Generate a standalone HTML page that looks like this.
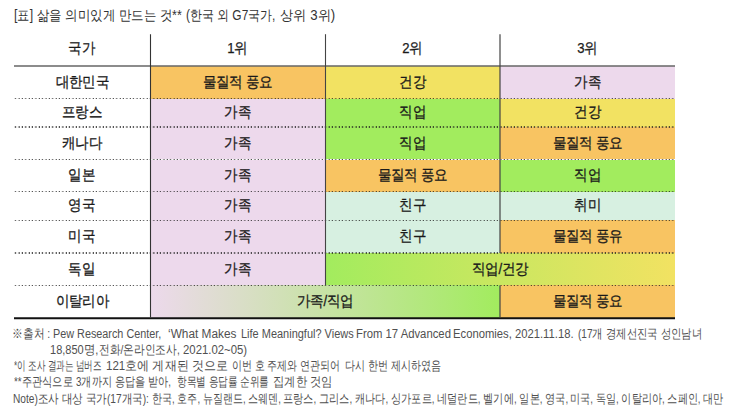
<!DOCTYPE html>
<html><head><meta charset="utf-8">
<style>
html,body{margin:0;padding:0;background:#fff;}
body{width:734px;height:419px;position:relative;overflow:hidden;font-family:"Liberation Sans",sans-serif;color:#222;}
.a{position:absolute;}
.s{position:absolute;white-space:nowrap;line-height:1;transform-origin:0 0;}
.c{position:absolute;display:flex;align-items:center;justify-content:center;white-space:nowrap;color:#1a1a1a;}
.c span{display:inline-block;}
.dot{position:absolute;height:1.2px;background:repeating-linear-gradient(90deg,rgba(40,40,40,0) 0px,rgba(30,30,30,.95) 0.6px,rgba(30,30,30,.95) 1.0px,rgba(40,40,40,0) 1.6px,rgba(40,40,40,0) 3.37px);background-position:0.8px 0;}
</style></head><body>

<div class="s" style="left:14.12px;top:8.40px;font-size:14px;color:#333;transform:scaleX(0.8759)">[표]</div>
<div class="s" style="left:37.15px;top:8.40px;font-size:14px;color:#333;transform:scaleX(0.8909)">삶을 의미있게 만드는 것**</div>
<div class="s" style="left:185.66px;top:8.40px;font-size:14px;color:#333;transform:scaleX(0.8515)">(한국 외 G7국가,</div>
<div class="s" style="left:279.83px;top:8.40px;font-size:14px;color:#333;transform:scaleX(0.9456)">상위 3위)</div>
<div class="c" style="left:14px;top:34px;width:136px;height:31.9px"><span style="font-size:14.6px;letter-spacing:-0.3px;-webkit-text-stroke:0.25px #1a1a1a;transform:translateY(-0.7px) scaleX(0.9)">국가</span></div>
<div class="c" style="left:150px;top:34px;width:175px;height:31.9px"><span style="font-size:14.6px;letter-spacing:-0.3px;-webkit-text-stroke:0.25px #1a1a1a;transform:translateY(-0.7px) scaleX(0.9)">1위</span></div>
<div class="c" style="left:325px;top:34px;width:175px;height:31.9px"><span style="font-size:14.6px;letter-spacing:-0.3px;-webkit-text-stroke:0.25px #1a1a1a;transform:translateY(-0.7px) scaleX(0.9)">2위</span></div>
<div class="c" style="left:500px;top:34px;width:175px;height:31.9px"><span style="font-size:14.6px;letter-spacing:-0.3px;-webkit-text-stroke:0.25px #1a1a1a;transform:translateY(-0.7px) scaleX(0.9)">3위</span></div>
<div class="c" style="left:14px;top:65.9px;width:136px;height:32.7px"><span style="font-size:14.6px;letter-spacing:-0.3px;-webkit-text-stroke:0.3px #1a1a1a;transform:translateY(-0.5px) scaleX(0.9)">대한민국</span></div>
<div class="c" style="left:150px;top:65.9px;width:175px;height:32.7px;background:#F8C462"><span style="font-size:14.6px;letter-spacing:-0.3px;-webkit-text-stroke:0.3px #1a1a1a;transform:translateY(-0.5px) scaleX(0.9)">물질적 풍요</span></div>
<div class="c" style="left:325px;top:65.9px;width:175px;height:32.7px;background:#F2E262"><span style="font-size:14.6px;letter-spacing:-0.3px;-webkit-text-stroke:0.3px #1a1a1a;transform:translateY(-0.5px) scaleX(0.9)">건강</span></div>
<div class="c" style="left:500px;top:65.9px;width:175px;height:32.7px;background:#EDD9EC"><span style="font-size:14.6px;letter-spacing:-0.3px;-webkit-text-stroke:0.3px #1a1a1a;transform:translateY(-0.5px) scaleX(0.9)">가족</span></div>
<div class="c" style="left:14px;top:98.6px;width:136px;height:28.3px"><span style="font-size:14.6px;letter-spacing:-0.3px;-webkit-text-stroke:0.3px #1a1a1a;transform:translateY(-0.5px) scaleX(0.9)">프랑스</span></div>
<div class="c" style="left:150px;top:98.6px;width:175px;height:28.3px;background:#EDD9EC"><span style="font-size:14.6px;letter-spacing:-0.3px;-webkit-text-stroke:0.3px #1a1a1a;transform:translateY(-0.5px) scaleX(0.9)">가족</span></div>
<div class="c" style="left:325px;top:98.6px;width:175px;height:28.3px;background:#A2EC5E"><span style="font-size:14.6px;letter-spacing:-0.3px;-webkit-text-stroke:0.3px #1a1a1a;transform:translateY(-0.5px) scaleX(0.9)">직업</span></div>
<div class="c" style="left:500px;top:98.6px;width:175px;height:28.3px;background:#F2E262"><span style="font-size:14.6px;letter-spacing:-0.3px;-webkit-text-stroke:0.3px #1a1a1a;transform:translateY(-0.5px) scaleX(0.9)">건강</span></div>
<div class="c" style="left:14px;top:126.9px;width:136px;height:32.6px"><span style="font-size:14.6px;letter-spacing:-0.3px;-webkit-text-stroke:0.3px #1a1a1a;transform:translateY(-0.5px) scaleX(0.9)">캐나다</span></div>
<div class="c" style="left:150px;top:126.9px;width:175px;height:32.6px;background:#EDD9EC"><span style="font-size:14.6px;letter-spacing:-0.3px;-webkit-text-stroke:0.3px #1a1a1a;transform:translateY(-0.5px) scaleX(0.9)">가족</span></div>
<div class="c" style="left:325px;top:126.9px;width:175px;height:32.6px;background:#A2EC5E"><span style="font-size:14.6px;letter-spacing:-0.3px;-webkit-text-stroke:0.3px #1a1a1a;transform:translateY(-0.5px) scaleX(0.9)">직업</span></div>
<div class="c" style="left:500px;top:126.9px;width:175px;height:32.6px;background:#F8C462"><span style="font-size:14.6px;letter-spacing:-0.3px;-webkit-text-stroke:0.3px #1a1a1a;transform:translateY(-0.5px) scaleX(0.9)">물질적 풍요</span></div>
<div class="c" style="left:14px;top:159.5px;width:136px;height:32.0px"><span style="font-size:14.6px;letter-spacing:-0.3px;-webkit-text-stroke:0.3px #1a1a1a;transform:translateY(-0.5px) scaleX(0.9)">일본</span></div>
<div class="c" style="left:150px;top:159.5px;width:175px;height:32.0px;background:#EDD9EC"><span style="font-size:14.6px;letter-spacing:-0.3px;-webkit-text-stroke:0.3px #1a1a1a;transform:translateY(-0.5px) scaleX(0.9)">가족</span></div>
<div class="c" style="left:325px;top:159.5px;width:175px;height:32.0px;background:#F8C462"><span style="font-size:14.6px;letter-spacing:-0.3px;-webkit-text-stroke:0.3px #1a1a1a;transform:translateY(-0.5px) scaleX(0.9)">물질적 풍요</span></div>
<div class="c" style="left:500px;top:159.5px;width:175px;height:32.0px;background:#A2EC5E"><span style="font-size:14.6px;letter-spacing:-0.3px;-webkit-text-stroke:0.3px #1a1a1a;transform:translateY(-0.5px) scaleX(0.9)">직업</span></div>
<div class="c" style="left:14px;top:191.5px;width:136px;height:28.9px"><span style="font-size:14.6px;letter-spacing:-0.3px;-webkit-text-stroke:0.3px #1a1a1a;transform:translateY(-0.5px) scaleX(0.9)">영국</span></div>
<div class="c" style="left:150px;top:191.5px;width:175px;height:28.9px;background:#EDD9EC"><span style="font-size:14.6px;letter-spacing:-0.3px;-webkit-text-stroke:0.3px #1a1a1a;transform:translateY(-0.5px) scaleX(0.9)">가족</span></div>
<div class="c" style="left:325px;top:191.5px;width:175px;height:28.9px;background:#D7F0E1"><span style="font-size:14.6px;letter-spacing:-0.3px;-webkit-text-stroke:0.3px #1a1a1a;transform:translateY(-0.5px) scaleX(0.9)">친구</span></div>
<div class="c" style="left:500px;top:191.5px;width:175px;height:28.9px;background:#D7F0E1"><span style="font-size:14.6px;letter-spacing:-0.3px;-webkit-text-stroke:0.3px #1a1a1a;transform:translateY(-0.5px) scaleX(0.9)">취미</span></div>
<div class="c" style="left:14px;top:220.4px;width:136px;height:32.5px"><span style="font-size:14.6px;letter-spacing:-0.3px;-webkit-text-stroke:0.3px #1a1a1a;transform:translateY(-0.5px) scaleX(0.9)">미국</span></div>
<div class="c" style="left:150px;top:220.4px;width:175px;height:32.5px;background:#EDD9EC"><span style="font-size:14.6px;letter-spacing:-0.3px;-webkit-text-stroke:0.3px #1a1a1a;transform:translateY(-0.5px) scaleX(0.9)">가족</span></div>
<div class="c" style="left:325px;top:220.4px;width:175px;height:32.5px;background:#D7F0E1"><span style="font-size:14.6px;letter-spacing:-0.3px;-webkit-text-stroke:0.3px #1a1a1a;transform:translateY(-0.5px) scaleX(0.9)">친구</span></div>
<div class="c" style="left:500px;top:220.4px;width:175px;height:32.5px;background:#F8C462"><span style="font-size:14.6px;letter-spacing:-0.3px;-webkit-text-stroke:0.3px #1a1a1a;transform:translateY(-0.5px) scaleX(0.9)">물질적 풍유</span></div>
<div class="c" style="left:14px;top:252.9px;width:136px;height:32.5px"><span style="font-size:14.6px;letter-spacing:-0.3px;-webkit-text-stroke:0.3px #1a1a1a;transform:translateY(-0.5px) scaleX(0.9)">독일</span></div>
<div class="c" style="left:150px;top:252.9px;width:175px;height:32.5px;background:#EDD9EC"><span style="font-size:14.6px;letter-spacing:-0.3px;-webkit-text-stroke:0.3px #1a1a1a;transform:translateY(-0.5px) scaleX(0.9)">가족</span></div>
<div class="c" style="left:325px;top:252.9px;width:350px;height:32.5px;background:linear-gradient(90deg,#A2EC5E,#F2E262)"><span style="font-size:14.6px;letter-spacing:-0.3px;-webkit-text-stroke:0.3px #1a1a1a;transform:translateY(-0.5px) scaleX(0.9)">직업/건강</span></div>
<div class="c" style="left:14px;top:285.4px;width:136px;height:32.5px"><span style="font-size:14.6px;letter-spacing:-0.3px;-webkit-text-stroke:0.3px #1a1a1a;transform:translateY(-0.5px) scaleX(0.9)">이탈리아</span></div>
<div class="c" style="left:150px;top:285.4px;width:350px;height:32.5px;background:linear-gradient(90deg,#EDD9EC,#A2EC5E)"><span style="font-size:14.6px;letter-spacing:-0.3px;-webkit-text-stroke:0.3px #1a1a1a;transform:translateY(-0.5px) scaleX(0.9)">가족/직업</span></div>
<div class="c" style="left:500px;top:285.4px;width:175px;height:32.5px;background:#F8C462"><span style="font-size:14.6px;letter-spacing:-0.3px;-webkit-text-stroke:0.3px #1a1a1a;transform:translateY(-0.5px) scaleX(0.9)">물질적 풍요</span></div>
<div class="dot" style="left:14px;top:98.1px;width:661px"></div>
<div class="dot" style="left:14px;top:126.4px;width:661px"></div>
<div class="dot" style="left:14px;top:159.0px;width:661px"></div>
<div class="dot" style="left:14px;top:191.0px;width:661px"></div>
<div class="dot" style="left:14px;top:219.9px;width:661px"></div>
<div class="dot" style="left:14px;top:252.4px;width:661px"></div>
<div class="dot" style="left:14px;top:284.9px;width:661px"></div>
<svg class="a" style="left:0;top:0" width="734" height="419"><line x1="14" y1="65.9" x2="675" y2="65.9" stroke="#666" stroke-width="1.5"/><line x1="14" y1="318.15" x2="675" y2="318.15" stroke="#111" stroke-width="2"/><line x1="150.5" y1="34.2" x2="150.5" y2="317.5" stroke="#333" stroke-width="1.1"/><line x1="325.5" y1="34.2" x2="325.5" y2="285.4" stroke="#444" stroke-width="1.1"/><line x1="500" y1="34.2" x2="500" y2="252.9" stroke="#444" stroke-width="1.2"/><line x1="500" y1="285.4" x2="500" y2="317.5" stroke="#444" stroke-width="1.2"/></svg>
<div class="s" style="left:12.35px;top:327.50px;font-size:12.5px;color:#505050;transform:scaleX(0.8302)">※출처 :</div>
<div class="s" style="left:53.03px;top:327.50px;font-size:12.5px;color:#505050;transform:scaleX(0.8659)">Pew Research Center,</div>
<div class="s" style="left:168.49px;top:327.50px;font-size:12.5px;color:#505050;transform:scaleX(0.9465)">‘What Makes</div>
<div class="s" style="left:240.52px;top:327.50px;font-size:12.5px;color:#505050;transform:scaleX(0.8780)">Life Meaningful? Views</div>
<div class="s" style="left:356.10px;top:327.50px;font-size:12.5px;color:#505050;transform:scaleX(0.9049)">From 17 Advanced</div>
<div class="s" style="left:453.10px;top:327.50px;font-size:12.5px;color:#505050;transform:scaleX(0.9002)">Economies, 2021.11.18.</div>
<div class="s" style="left:578.20px;top:327.50px;font-size:12.5px;color:#505050;transform:scaleX(0.8013)">(17개 경제선진국 성인남녀</div>
<div class="s" style="left:49.62px;top:343.90px;font-size:12.5px;color:#505050;transform:scaleX(0.8815)">18,850명,</div>
<div class="s" style="left:99.38px;top:343.90px;font-size:12.5px;color:#505050;transform:scaleX(0.8249)">전화/온라인조사,</div>
<div class="s" style="left:183.45px;top:343.90px;font-size:12.5px;color:#505050;transform:scaleX(0.9083)">2021.02~05)</div>
<div class="s" style="left:13.93px;top:360.00px;font-size:12.5px;color:#505050;transform:scaleX(0.6605)">*이 조사 결과는 넘버즈</div>
<div class="s" style="left:105.68px;top:360.00px;font-size:12.5px;color:#505050;transform:scaleX(0.9238)">121호에 게재된 것으로</div>
<div class="s" style="left:231.54px;top:360.00px;font-size:12.5px;color:#505050;transform:scaleX(0.7686)">이번 호 주제와 연관되어</div>
<div class="s" style="left:344.63px;top:360.00px;font-size:12.5px;color:#505050;transform:scaleX(0.7737)">다시 한번 제시하였음</div>
<div class="s" style="left:13.60px;top:376.40px;font-size:12.5px;color:#505050;transform:scaleX(0.7890)">**주관식으로</div>
<div class="s" style="left:76.01px;top:376.40px;font-size:12.5px;color:#505050;transform:scaleX(0.7816)">3개까지 응답을 받아,</div>
<div class="s" style="left:176.76px;top:376.40px;font-size:12.5px;color:#505050;transform:scaleX(0.7432)">항목별 응답률 순위를</div>
<div class="s" style="left:273.13px;top:376.40px;font-size:12.5px;color:#505050;transform:scaleX(0.8677)">집계한 것임</div>
<div class="s" style="left:12.99px;top:392.80px;font-size:12.5px;color:#505050;transform:scaleX(0.8127)">Note)조사 대상 국가(17개국):</div>
<div class="s" style="left:152.13px;top:392.80px;font-size:12.5px;color:#505050;transform:scaleX(0.7710)">한국, 호주, 뉴질랜드, 스웨덴,</div>
<div class="s" style="left:283.22px;top:392.80px;font-size:12.5px;color:#505050;transform:scaleX(0.7838)">프랑스, 그리스, 캐나다, 싱가포르,</div>
<div class="s" style="left:437.11px;top:392.80px;font-size:12.5px;color:#505050;transform:scaleX(0.7849)">네덜란드, 벨기에, 일본, 영국,</div>
<div class="s" style="left:570.33px;top:392.80px;font-size:12.5px;color:#505050;transform:scaleX(0.7800)">미국, 독일, 이탈리아, 스페인, 대만</div>
</body></html>
